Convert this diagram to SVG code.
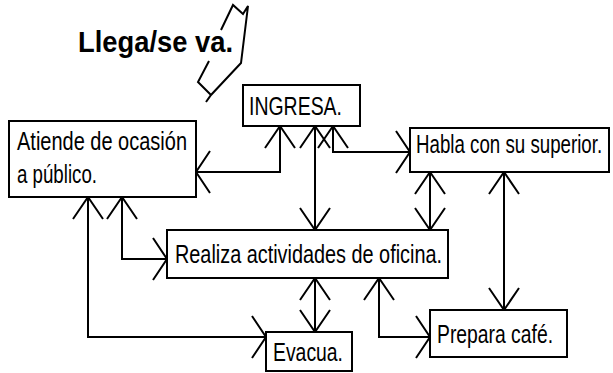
<svg xmlns="http://www.w3.org/2000/svg" width="613" height="373" viewBox="0 0 613 373">
<style>
.box{fill:#fff;stroke:#000;stroke-width:2}
.t{font-family:"Liberation Sans Narrow","Liberation Sans",Arial,sans-serif;font-size:26px;fill:#000}
.c{fill:none;stroke:#000;stroke-width:2}
.v{marker-start:url(#av);marker-end:url(#av)}
</style>
<defs>
<marker id="av" markerUnits="userSpaceOnUse" orient="auto-start-reverse" refX="0" refY="0" markerWidth="30" markerHeight="40" viewBox="-25 -20 30 40" overflow="visible">
<path d="M-22,-15 L0,0 L-22,15" fill="none" stroke="#000" stroke-width="2"/>
</marker>
<marker id="ah" markerUnits="userSpaceOnUse" orient="auto" refX="0" refY="0" markerWidth="30" markerHeight="50" viewBox="-25 -25 30 50" overflow="visible">
<path d="M-14,-21 L0,0 L-14,21" fill="none" stroke="#000" stroke-width="2"/>
</marker>
</defs>
<rect width="613" height="373" fill="#fff"/>

<g id="title">
<text x="78" y="52" class="t" style="font-weight:bold;font-size:29px" textLength="155" lengthAdjust="spacingAndGlyphs">Llega/se va.</text>
<path d="M221,30 L233,5 L243,14 L248,6 L241,63 L211,95 L206,102 M211,95 L198,82 L209,61" fill="none" stroke="#000" stroke-width="2"/>
</g>

<g id="connectors">
<path class="c" d="M280,126 V172 H196" style="marker-start:url(#av);marker-end:url(#ah)"/>
<path class="c v" d="M315,126 V230"/>
<path class="c" d="M333,126 V152 H410" style="marker-start:url(#av);marker-end:url(#ah)"/>
<path class="c v" d="M430,172 V230"/>
<path class="c v" d="M504,172 V310"/>
<path class="c" d="M88,197 V337 H266" style="marker-start:url(#av);marker-end:url(#ah)"/>
<path class="c" d="M122,197 V259 H167" style="marker-start:url(#av);marker-end:url(#ah)"/>
<path class="c v" d="M315,278 V332"/>
<path class="c" d="M379,278 V337 H430" style="marker-start:url(#av);marker-end:url(#ah)"/>
</g>

<g id="ingresa">
<rect class="box" x="243" y="85" width="117" height="41"/>
<text class="t" x="249" y="115" textLength="93" lengthAdjust="spacingAndGlyphs">INGRESA.</text>
</g>

<g id="atiende">
<rect class="box" x="9" y="121" width="187" height="76"/>
<text class="t" x="17" y="150" textLength="170" lengthAdjust="spacingAndGlyphs">Atiende de ocasión</text>
<text class="t" x="17" y="183" textLength="80" lengthAdjust="spacingAndGlyphs">a público.</text>
</g>

<g id="habla">
<rect class="box" x="410" y="128" width="199" height="44"/>
<text class="t" transform="translate(416,153) scale(0.72,1)" x="0" y="0">Habla con su superior.</text>
</g>

<g id="realiza">
<rect class="box" x="167" y="230" width="281" height="48"/>
<text class="t" x="175" y="263" textLength="267" lengthAdjust="spacingAndGlyphs">Realiza actividades de oficina.</text>
</g>

<g id="evacua">
<rect class="box" x="266" y="332" width="86" height="39"/>
<text class="t" x="273" y="361" textLength="70" lengthAdjust="spacingAndGlyphs">Evacua.</text>
</g>

<g id="prepara">
<rect class="box" x="430" y="310" width="137" height="47"/>
<text class="t" x="437" y="343" textLength="116" lengthAdjust="spacingAndGlyphs">Prepara café.</text>
</g>
</svg>
